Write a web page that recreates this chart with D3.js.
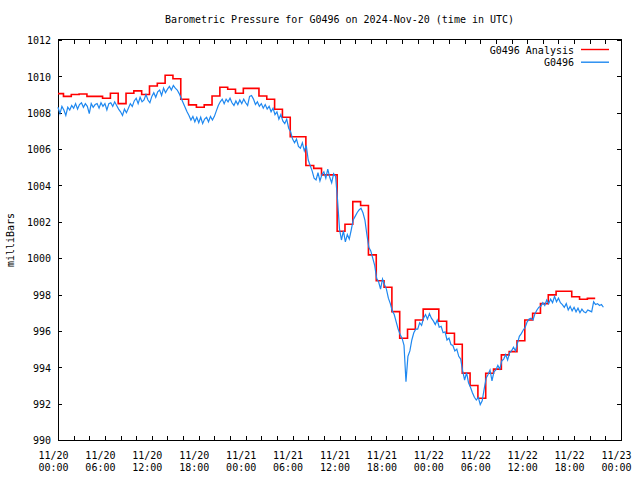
<!DOCTYPE html>
<html><head><meta charset="utf-8">
<script src="https://cdn.jsdelivr.net/npm/d3@7"></script>
<style>
body{margin:0;background:#fff}
svg{display:block}
text{font-family:"DejaVu Sans Mono","Liberation Mono",monospace;font-size:10px;fill:#000}
</style>
</head><body>
<svg id="chart" width="640" height="480"></svg>
<script>
// ---------- data ----------
const titleText = "Barometric Pressure for G0496 on 2024-Nov-20 (time in UTC)";
const yAxisLabel = "milliBars";
const seriesNames = ["G0496 Analysis", "G0496"];
const seriesColors = ["#ff0000", "#1e88f0"];

// x axis: hours since 11/20 00:00 UTC
const xTickHours = [0, 6, 12, 18, 24, 30, 36, 42, 48, 54, 60, 66, 72];
const xTickDates = ["11/20","11/20","11/20","11/20","11/21","11/21","11/21","11/21","11/22","11/22","11/22","11/22","11/23"];
const xTickTimes = ["00:00","06:00","12:00","18:00","00:00","06:00","12:00","18:00","00:00","06:00","12:00","18:00","00:00"];
const xMinorHours = [0,2,4,6,8,10,12,14,16,18,20,22,24,26,28,30,32,34,36,38,40,42,44,46,48,50,52,54,56,58,60,62,64,66,68,70,72];
const yTicks = [990, 992, 994, 996, 998, 1000, 1002, 1004, 1006, 1008, 1010, 1012];

// Analysis (hourly step values); step changes at these hours
const analysisTimes = [0, 0.7,1.7,2.7,3.7,4.7,5.7,6.7,7.7,8.7,
  9.7,10.7,11.7,12.7,13.7,14.7,15.7,16.7,17.7,18.7,
  19.7,20.7,21.7,22.7,23.7,24.7,25.7,26.7,27.7,28.7,
  29.7,30.7,31.7,32.7,33.7,34.7,35.7,36.7,37.7,38.7,
  39.7,40.7,41.7,42.7,43.7,44.7,45.7,46.7,47.7,48.7,
  49.7,50.7,51.7,52.7,53.7,54.7,55.7,56.7,57.7,58.7,
  59.7,60.7,61.7,62.7,63.7,64.7,65.7,66.7,67.7];
const analysisValues = [1009.05,1008.9,1009.0,1009.03,1008.9,1008.9,1008.8,1009.07,1008.5,1009.07,
  1009.2,1009.0,1009.47,1009.62,1010.06,1009.87,1008.74,1008.43,1008.3,1008.43,
  1008.92,1009.4,1009.29,1009.07,1009.34,1009.34,1008.92,1008.74,1008.19,1007.75,
  1006.68,1006.68,1005.1,1004.94,1004.58,1004.58,1001.48,1001.87,1003.11,1002.9,
  1000.18,998.76,998.4,997.06,995.6,996.09,996.6,997.2,997.2,996.53,
  995.87,995.27,993.68,993.0,992.3,993.67,993.9,994.68,994.86,995.46,
  996.6,996.97,997.5,997.98,998.18,998.18,997.88,997.74,997.79];
const analysisEnd = 68.7;

// Station observations, every 15 minutes from 11/20 00:00
const stationStepHours = 0.25;
const stationValues = [
  1008.3,1007.95,1008.35,1008.15, 1007.85,1008.3,1008.15,1008.4, 1008.25,1008.5,1008.2,1008.45,
  1008.55,1008.3,1008.5,1008.35, 1007.95,1008.5,1008.3,1008.45, 1008.5,1008.25,1008.55,1008.35,
  1008.5,1008.15,1008.5,1008.55, 1008.35,1008.6,1008.4,1008.2, 1008.05,1007.85,1008.2,1008.0,
  1008.25,1008.5,1008.35,1008.65, 1008.8,1008.5,1008.85,1008.6, 1008.7,1009.0,1008.7,1008.55,
  1008.9,1009.1,1008.85,1009.15, 1009.25,1008.95,1009.35,1009.1, 1009.3,1009.45,1009.25,1009.5,
  1009.35,1009.25,1009.05,1008.8, 1008.55,1008.3,1008.05,1007.85, 1007.6,1007.8,1007.5,1007.75,
  1007.45,1007.75,1007.4,1007.65, 1007.75,1007.5,1007.8,1007.6, 1007.8,1008.1,1008.4,1008.6,
  1008.75,1008.5,1008.75,1008.6, 1008.8,1008.55,1008.4,1008.65, 1008.45,1008.7,1008.5,1008.75,
  1008.55,1008.4,1008.9,1008.95, 1008.75,1008.45,1008.6,1008.35, 1008.5,1008.25,1008.45,1008.2,
  1008.35,1008.05,1008.25,1007.9, 1008.05,1007.65,1007.9,1007.55, 1007.4,1007.65,1007.15,1006.95,
  1006.55,1006.35,1006.55,1006.15, 1006.05,1006.35,1005.9,1006.2, 1005.4,1005.1,1004.8,1004.4,
  1004.3,1004.7,1004.25,1004.6, 1004.75,1004.4,1004.9,1004.45, 1004.15,1004.65,1004.5,1003.2,
  1001.6,1001.0,1001.5,1000.9, 1001.3,1001.05,1001.55,1002.1, 1002.3,1002.5,1002.65,1002.75,
  1002.5,1002.1,1001.3,1000.6, 1000.4,1000.0,999.6,998.9, 998.7,998.3,998.85,998.55,
  998.3,997.8,997.5,997.1, 996.9,996.5,996.1,995.8, 995.6,995.2,993.2,994.6,
  994.9,995.5,995.9,996.1, 996.1,996.45,996.3,996.7, 996.9,996.65,996.95,996.7,
  996.55,996.35,996.6,996.2, 996.25,995.9,995.95,995.5, 995.6,995.25,995.2,994.9,
  995.0,994.6,994.45,993.8, 993.3,993.7,993.15,992.9, 992.6,992.35,992.2,992.35,
  991.95,992.15,992.8,993.4, 993.6,993.85,993.25,993.75, 993.85,994.1,993.9,994.35,
  994.45,994.7,994.4,994.8, 994.9,995.1,994.9,995.3, 995.7,995.85,996.05,996.2,
  996.5,996.65,996.7,996.6, 996.95,997.15,997.3,997.35, 997.55,997.4,997.7,997.5,
  997.75,997.55,997.9,997.6, 997.8,997.55,997.45,997.3, 997.5,997.15,997.35,997.1,
  997.3,997.05,997.25,997.0, 997.2,997.05,997.0,997.15, 997.1,997.05,997.6,997.45,
  997.5,997.4,997.45,997.3
];

// ---------- chart ----------
const svg = d3.select("#chart");
const L = 58, R = 621, T = 40, B = 440;
const x = d3.scaleLinear().domain([0, 72]).range([L, R]);
const y = d3.scaleLinear().domain([990, 1012]).range([B, T]);

// Ticks (inward) on all four sides
const tickLen = 4;
svg.append("g").attr("transform", `translate(0,${B})`)
  .call(d3.axisBottom(x).tickValues(xMinorHours).tickSize(-tickLen).tickFormat(""))
  .call(g => g.select(".domain").remove());
svg.append("g").attr("transform", `translate(0,${T})`)
  .call(d3.axisTop(x).tickValues(xMinorHours).tickSize(-tickLen).tickFormat(""))
  .call(g => g.select(".domain").remove());
svg.append("g").attr("transform", `translate(${L},0)`)
  .call(d3.axisLeft(y).tickValues(yTicks).tickSize(-tickLen).tickPadding(7).tickFormat(d3.format("d")))
  .call(g => g.select(".domain").remove())
  .call(g => g.selectAll("text").attr("font-family", null).attr("font-size", null).attr("dy", "0.38em"));
svg.append("g").attr("transform", `translate(${R},0)`)
  .call(d3.axisRight(y).tickValues(yTicks).tickSize(-tickLen).tickFormat(""))
  .call(g => g.select(".domain").remove());

// Bottom two-line labels
const xl = svg.append("g").attr("transform", `translate(0,${B})`)
  .call(d3.axisBottom(x).tickValues(xTickHours).tickSize(0).tickFormat(""))
  .call(g => g.select(".domain").remove());
xl.selectAll(".tick").each(function(d, i) {
  const t = d3.select(this).append("text").attr("text-anchor", "middle");
  t.append("tspan").attr("x", -5).attr("y", 18.5).text(xTickDates[i]);
  t.append("tspan").attr("x", -5).attr("y", 30.5).text(xTickTimes[i]);
});
svg.selectAll(".tick line").attr("stroke", "#000").attr("shape-rendering", "crispEdges");

// Frame
svg.append("rect").attr("x", L + 0.5).attr("y", T - 0.5).attr("width", R - L - 0.5).attr("height", B - T + 0.5)
  .attr("fill", "none").attr("stroke", "#000").attr("stroke-width", 1).attr("shape-rendering", "crispEdges");

// Analysis step line
const analysisPts = analysisTimes.map((t, i) => [t, analysisValues[i]]);
analysisPts.push([analysisEnd, analysisValues[analysisValues.length - 1]]);
const stepLine = d3.line().x(d => x(d[0])).y(d => y(d[1])).curve(d3.curveStepAfter);
svg.append("path").attr("d", stepLine(analysisPts))
  .attr("fill", "none").attr("stroke", seriesColors[0]).attr("stroke-width", 1.6);

// Station line
const stationPts = stationValues.map((v, i) => [i * stationStepHours, v]);
const line = d3.line().x(d => x(d[0])).y(d => y(d[1]));
svg.append("path").attr("d", line(stationPts))
  .attr("fill", "none").attr("stroke", seriesColors[1]).attr("stroke-width", 1.2).attr("stroke-linejoin", "miter");

// Title
svg.append("text").attr("x", (L + R) / 2).attr("y", 23).attr("text-anchor", "middle").text(titleText);
// Y label
svg.append("text").attr("transform", "translate(14,240) rotate(-90)").attr("text-anchor", "middle").text(yAxisLabel);

// Legend
const leg = svg.append("g");
seriesNames.forEach((name, i) => {
  const yy = 50 + i * 12.7;
  leg.append("text").attr("x", 574).attr("y", yy).attr("dy", "0.35em").attr("text-anchor", "end").text(name);
  leg.append("line").attr("x1", 581).attr("x2", 609).attr("y1", yy - 0.5).attr("y2", yy - 0.5)
    .attr("stroke", seriesColors[i]).attr("stroke-width", 1.4);
});
</script>
</body></html>
